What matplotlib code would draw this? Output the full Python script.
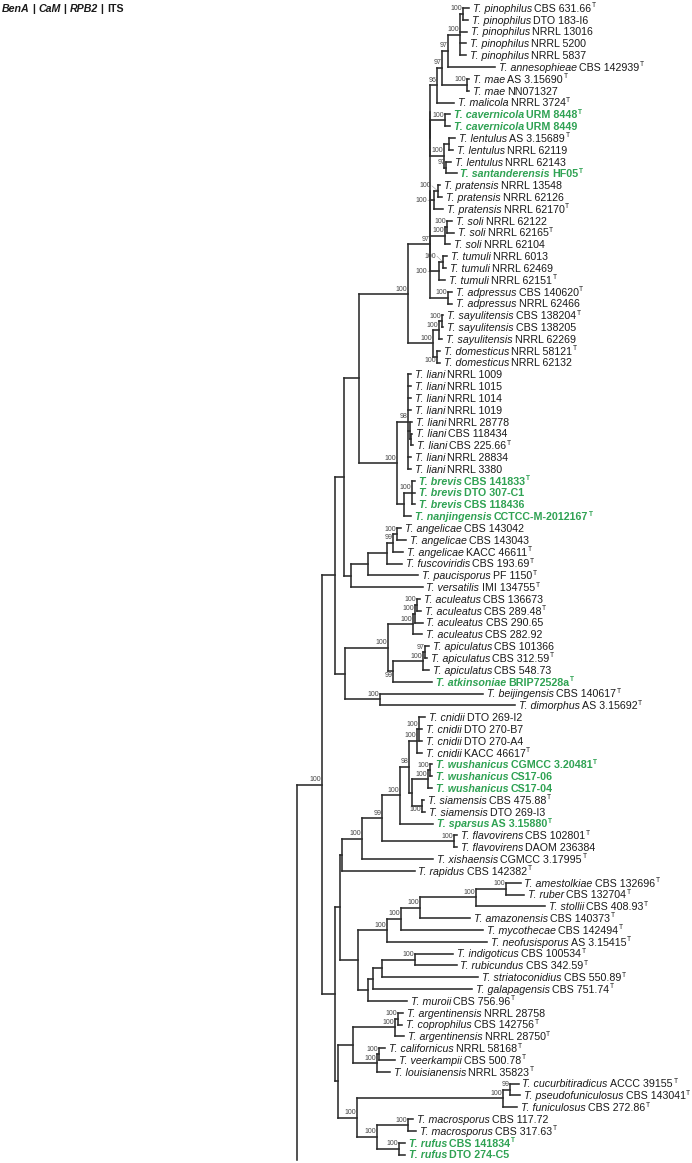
import matplotlib
matplotlib.use("Agg")
import matplotlib.pyplot as plt
from matplotlib.collections import LineCollection

# ---------------- data ----------------
species = [
    "pinophilus", "pinophilus", "pinophilus", "pinophilus", "pinophilus",
    "annesophieae", "mae", "mae", "malicola", "cavernicola", "cavernicola",
    "lentulus", "lentulus", "lentulus", "santanderensis",
    "pratensis", "pratensis", "pratensis", "soli", "soli", "soli",
    "tumuli", "tumuli", "tumuli", "adpressus", "adpressus",
    "sayulitensis", "sayulitensis", "sayulitensis", "domesticus", "domesticus",
    "liani", "liani", "liani", "liani", "liani", "liani", "liani", "liani", "liani",
    "brevis", "brevis", "brevis", "nanjingensis",
    "angelicae", "angelicae", "angelicae", "fuscoviridis", "paucisporus", "versatilis",
    "aculeatus", "aculeatus", "aculeatus", "aculeatus",
    "apiculatus", "apiculatus", "apiculatus", "atkinsoniae", "beijingensis", "dimorphus",
    "cnidii", "cnidii", "cnidii", "cnidii",
    "wushanicus", "wushanicus", "wushanicus", "siamensis", "siamensis", "sparsus",
    "flavovirens", "flavovirens", "xishaensis", "rapidus",
    "amestolkiae", "ruber", "stollii", "amazonensis", "mycothecae", "neofusisporus",
    "indigoticus", "rubicundus", "striatoconidius", "galapagensis", "muroii",
    "argentinensis", "coprophilus", "argentinensis", "californicus", "veerkampii",
    "louisianensis", "cucurbitiradicus", "pseudofuniculosus", "funiculosus",
    "macrosporus", "macrosporus", "rufus", "rufus",
]
strains = [
    "CBS 631.66", "DTO 183-I6", "NRRL 13016", "NRRL 5200", "NRRL 5837",
    "CBS 142939", "AS 3.15690", "NN071327", "NRRL 3724", "URM 8448", "URM 8449",
    "AS 3.15689", "NRRL 62119", "NRRL 62143", "HF05",
    "NRRL 13548", "NRRL 62126", "NRRL 62170", "NRRL 62122", "NRRL 62165", "NRRL 62104",
    "NRRL 6013", "NRRL 62469", "NRRL 62151", "CBS 140620", "NRRL 62466",
    "CBS 138204", "CBS 138205", "NRRL 62269", "NRRL 58121", "NRRL 62132",
    "NRRL 1009", "NRRL 1015", "NRRL 1014", "NRRL 1019", "NRRL 28778",
    "CBS 118434", "CBS 225.66", "NRRL 28834", "NRRL 3380",
    "CBS 141833", "DTO 307-C1", "CBS 118436", "CCTCC-M-2012167",
    "CBS 143042", "CBS 143043", "KACC 46611", "CBS 193.69", "PF 1150", "IMI 134755",
    "CBS 136673", "CBS 289.48", "CBS 290.65", "CBS 282.92",
    "CBS 101366", "CBS 312.59", "CBS 548.73", "BRIP72528a", "CBS 140617", "AS 3.15692",
    "DTO 269-I2", "DTO 270-B7", "DTO 270-A4", "KACC 46617",
    "CGMCC 3.20481", "CS17-06", "CS17-04", "CBS 475.88", "DTO 269-I3", "AS 3.15880",
    "CBS 102801", "DAOM 236384", "CGMCC 3.17995", "CBS 142382",
    "CBS 132696", "CBS 132704", "CBS 408.93", "CBS 140373", "CBS 142494", "AS 3.15415",
    "CBS 100534", "CBS 342.59", "CBS 550.89", "CBS 751.74", "CBS 756.96",
    "NRRL 28758", "CBS 142756", "NRRL 28750", "NRRL 58168", "CBS 500.78",
    "NRRL 35823", "ACCC 39155", "CBS 143041", "CBS 272.86",
    "CBS 117.72", "CBS 317.63", "CBS 141834", "DTO 274-C5",
]
type_strain = [
    1, 0, 0, 0, 0, 1, 1, 0, 1, 1, 0, 1, 0, 0, 1, 0, 0, 1, 0, 1, 0, 0, 0, 1, 1, 0,
    1, 0, 0, 1, 0, 0, 0, 0, 0, 0, 0, 1, 0, 0, 1, 0, 0, 1, 0, 0, 1, 1, 1, 1,
    0, 1, 0, 0, 0, 1, 0, 1, 1, 1, 0, 0, 0, 1, 1, 0, 0, 1, 0, 1, 1, 0, 1, 1,
    1, 1, 1, 1, 1, 1, 1, 1, 1, 1, 1, 0, 1, 1, 1, 1, 1, 1, 1, 1, 0, 1, 1, 0,
]
new_taxa = [10, 11, 15, 41, 42, 43, 44, 58, 65, 66, 67, 70, 97, 98]  # leaf numbers in green

# tree topology (leaf numbers, support values, branch lengths)
clade_pinophilus_s = ("(((((1:0.06,2:0.05)100:0.03,3:0.07,4:0.06,5:0.06)100:0.12,6:0.47)97:0.06,"
                      "(7:0.02,8:0.02)100:0.25)97:0.05,9:0.17)96:0.07")
clade_cavernicola = "(10:0.05,11:0.05)100:0.15"
clade_lentulus = "((12:0.06,13:0.04):0.05,(14:0.05,15:0.11)97:0.02)100:0.14"
clade_pratensis = "((16:0.02,17:0.04)100:0.04,18:0.09)100:0.04"
clade_soli = "((19:0.05,20:0.07)100:0.02,21:0.05)100:0.15"
clade_tumuli = "((22:0.04,23:0.03)100:0.04,24:0.06)100:0.09"
clade_adpressus = "(25:0.04,26:0.04)100:0.18"
clade_pinophilus = ("(((" + clade_pinophilus_s + ",(" + clade_cavernicola + "," + clade_lentulus
                    + "):0.0):0.0," + clade_pratensis + "," + clade_soli + "," + clade_tumuli
                    + "):0.0," + clade_adpressus + ")97:0.22")
clade_sayulitensis = "(((27:0.01,28:0.01)100:0.03,29:0.03)100:0.06,(30:0.03,31:0.03)100:0.04)100:0.25"
clade_liani = ("((32:0.03,33:0.03,34:0.03,35:0.03,(36:0.025,(37:0.015,38:0.025):0.01):0.015,"
               "39:0.03,40:0.03)98:0.11,((41:0.03,42:0.03,43:0.03)100:0.08,44:0.07):0.07)100:0.38")
clade_angelicae = "((((45:0.04,46:0.09)100:0.04,47:0.10)99:0.06,48:0.15):0.19,49:0.50):0.17"
clade_aculeatus = ("((((51:0.03,52:0.04)100:0.02,53:0.08)100:0.02,54:0.09)100:0.25,"
                   "(((55:0.04,56:0.02)97:0.02,57:0.06)100:0.30,58:0.39)99:0.05)100:0.43")
clade_beijingensis = "(59:1.03,60:1.35)100:0.35"
clade_cnidii = ("((((((61:0.06,62:0.03,63:0.03)100:0.02,64:0.05)100:0.08,"
                "(((65:0.02,66:0.02)100:0.02,67:0.04)100:0.16,(68:0.02,69:0.03)100:0.10):0.03)98:0.09,"
                "70:0.33)100:0.18,(71:0.03,72:0.03)100:0.72)99:0.20,73:0.71)100:0.20")
clade_amestolkiae = ("(((((75:0.15,76:0.18)100:0.30,77:0.69)100:0.56,78:0.50)100:0.19,"
                     "79:0.82)100:0.14,80:1.00)100:0.29")
clade_indigoticus = "((((81:0.38,82:0.42)100:0.33,83:0.96):0.09,84:0.99):0.05,85:0.39):0.10"
clade_argentinensis = ("(((86:0.05,87:0.04)100:0.03,88:0.09)100:0.42,"
                       "((89:0.06,90:0.16)100:0.02,91:0.13)100:0.24):0.15")
clade_funiculosus = ("(((92:0.09,93:0.10)99:0.07,94:0.14)100:1.46,"
                     "((95:0.05,96:0.08)100:0.31,(97:0.06,98:0.06)100:0.22)100:0.20)100:0.19")

newick = ("((((((" + clade_pinophilus + "," + clade_sayulitensis + ")100:0.49,"
          + clade_liani + "):0.15,(" + clade_angelicae + ",50:0.72):0.07):0.09,"
          + "(" + clade_aculeatus + "," + clade_beijingensis + "):0.10):0.13,"
          + "(((" + clade_cnidii + ",74:0.73):0.02,(" + clade_amestolkiae + ","
          + clade_indigoticus + "):0.18):0.05,(" + clade_argentinensis + ","
          + clade_funiculosus + "):0.03):0.13)100:0.25);")

# supports drawn to the left with a leader line: (first leaf, last leaf, vertical shift)
leader_nodes = [(16, 17, -0.45), (16, 18, 0.05), (22, 23, -0.5), (22, 24, 0.05)]
# supports written below the branch instead of above
below_nodes = [(55, 58), (30, 31), (68, 69)]

header = [("BenA", "bolditalic"), (" | ", "bold"), ("CaM", "bolditalic"), (" | ", "bold"),
          ("RPB2", "bolditalic"), (" | ", "bold"), ("ITS", "bold")]

# ---------------- parse ----------------
def parse_newick(s):
    s = s.replace(" ", "").rstrip(";")
    pos = [0]

    def node():
        n = {"children": [], "label": None, "len": 0.0}
        if s[pos[0]] == "(":
            pos[0] += 1
            while True:
                n["children"].append(node())
                c = s[pos[0]]
                pos[0] += 1
                if c == ")":
                    break
        st = pos[0]
        while pos[0] < len(s) and s[pos[0]] not in ":,)":
            pos[0] += 1
        n["label"] = s[st:pos[0]] or None
        if pos[0] < len(s) and s[pos[0]] == ":":
            pos[0] += 1
            st = pos[0]
            while pos[0] < len(s) and s[pos[0]] not in ",)":
                pos[0] += 1
            n["len"] = float(s[st:pos[0]])
        return n
    return node()

root = parse_newick(newick)

def layout(n, x0):
    n["x"] = x0 + n["len"]
    if not n["children"]:
        n["leaf"] = int(n["label"])
        n["y"] = n["leaf"] - 1
        n["span"] = (n["leaf"], n["leaf"])
    else:
        for c in n["children"]:
            layout(c, n["x"])
        n["y"] = 0.5 * (n["children"][0]["y"] + n["children"][-1]["y"])
        n["span"] = (n["children"][0]["span"][0], n["children"][-1]["span"][1])

layout(root, 0.0)
n_leaves = len(species)

# ---------------- figure ----------------
W, H, DPI = 692, 1163, 100
fig = plt.figure(figsize=(W / DPI, H / DPI), dpi=DPI)
ax = fig.add_axes([0, 0, 1, 1])
px_per_unit = 100.0
root_px = 297.0
row_px = 11.82
top_px = 8.0
ax.set_xlim(-root_px / px_per_unit, (W - root_px) / px_per_unit)
ax.set_ylim((H - top_px) / row_px, -top_px / row_px)
ax.axis("off")

line_color = "#2b2b2b"
green = "#2fa253"
sup_color = "#444444"
segs = []
sup_fs = 5.0
leader_map = {(a, b): d for a, b, d in leader_nodes}
below_set = set(below_nodes)

def draw(n):
    if not n["children"]:
        return
    ys = [c["y"] for c in n["children"]]
    segs.append([(n["x"], min(ys)), (n["x"], max(ys))])
    for c in n["children"]:
        if c["len"] > 0:
            segs.append([(n["x"], c["y"]), (c["x"], c["y"])])
        if c["children"] and c["label"]:
            key = c["span"]
            if key in leader_map:
                lx = n["x"] - 0.025
                ly = c["y"] + leader_map[key]
                ax.text(lx, ly, c["label"], fontsize=sup_fs, ha="right", va="center",
                        color=sup_color, family="Liberation Sans")
                ax.plot([lx + 0.005, c["x"]], [ly, c["y"]], color="#9a9a9a", lw=0.4)
            elif key in below_set:
                ax.text(c["x"] - 0.005, c["y"] + 0.05, c["label"], fontsize=sup_fs,
                        ha="right", va="top", color=sup_color, family="Liberation Sans")
            else:
                ax.text(c["x"] - 0.005, c["y"] - 0.12, c["label"], fontsize=sup_fs,
                        ha="right", va="bottom", color=sup_color, family="Liberation Sans")
        draw(c)

# root stem
child = root["children"][0]
segs.append([(root["x"], child["y"]), (root["x"], n_leaves - 1 + 0.45)])
draw(root)
lc = LineCollection(segs, colors=line_color, linewidths=1.15, capstyle="projecting")
ax.add_collection(lc)

# leaf labels
fig.canvas.draw()
renderer = fig.canvas.get_renderer()
fs = 7.7
fs_px = fs * DPI / 72.0
space_px = 0.24 * fs_px

leaves = []
def collect(n):
    if not n["children"]:
        leaves.append(n)
    for c in n["children"]:
        collect(c)
collect(root)

for lf in leaves:
    i = lf["leaf"] - 1
    xd, yd = ax.transData.transform((lf["x"], lf["y"]))
    xd += 3.5
    base = yd - 0.36 * fs_px
    is_new = lf["leaf"] in new_taxa
    col = green if is_new else "#1a1a1a"
    wt = "bold" if is_new else "normal"
    t1 = fig.text(xd / W, base / H, "T. " + species[i], va="baseline", ha="left",
                  family="Liberation Sans", style="italic", weight=wt, color=col, fontsize=fs)
    x1 = t1.get_window_extent(renderer=renderer).x1 + space_px
    t2 = fig.text(x1 / W, base / H, strains[i], va="baseline", ha="left",
                  family="Liberation Sans", weight=wt, color=col, fontsize=fs)
    x2 = t2.get_window_extent(renderer=renderer).x1 + 0.5
    if type_strain[i]:
        fig.text(x2 / W, (base + 0.42 * fs_px) / H, "T", va="baseline", ha="left",
                 family="Liberation Sans", weight=wt, color=col, fontsize=fs * 0.62)

# header
hx, hy = 2.0, H - 8.0 - 0.36 * fs_px
for txt, st in header:
    kw = dict(weight="bold")
    if st == "bolditalic":
        kw["style"] = "italic"
    t = fig.text(hx / W, hy / H, txt, va="baseline", ha="left", family="Liberation Sans",
                 fontsize=fs, color="#1a1a1a", **kw)
    hx = t.get_window_extent(renderer=renderer).x1

fig.savefig("out.png", dpi=DPI)
